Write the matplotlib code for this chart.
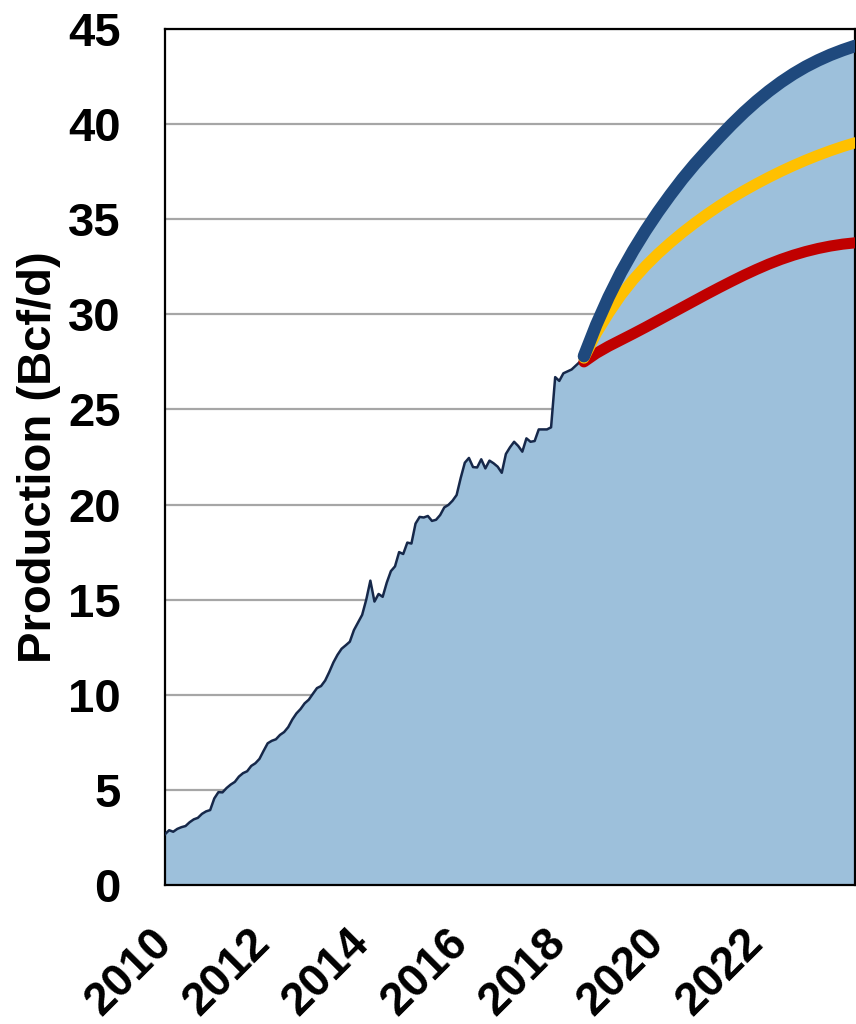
import numpy as np
import matplotlib.pyplot as plt

plt.rcParams['font.family'] = ['Liberation Sans', 'DejaVu Sans']
plt.rcParams['font.weight'] = 'bold'

# Monthly production, Jan 2010 .. Jul 2018 (Bcf/d)
hist_values = [2.67, 2.88, 2.80, 2.95, 3.04, 3.10, 3.30, 3.45, 3.53, 3.74, 3.87, 3.94,
               4.55, 4.88, 4.87, 5.10, 5.28, 5.42, 5.70, 5.88, 5.98, 6.26, 6.40, 6.63,
               7.05, 7.45, 7.58, 7.66, 7.89, 8.04, 8.30, 8.70, 9.02, 9.25, 9.55, 9.74,
               10.05, 10.35, 10.46, 10.75, 11.20, 11.70, 12.10, 12.42, 12.60, 12.79, 13.40, 13.80,
               14.20, 15.00, 16.00, 14.90, 15.30, 15.15, 15.90, 16.50, 16.75, 17.50, 17.40, 18.00,
               17.95, 19.00, 19.35, 19.32, 19.40, 19.14, 19.20, 19.45, 19.85, 19.98, 20.20, 20.50,
               21.40, 22.20, 22.45, 21.97, 21.95, 22.38, 21.90, 22.31, 22.17, 21.99, 21.67, 22.66,
               23.01, 23.30, 23.08, 22.78, 23.48, 23.30, 23.34, 23.95, 23.95, 23.95, 24.06, 26.70,
               26.50, 26.90, 27.00, 27.10, 27.30, 27.50, 27.70]
hist_years = 2010 + np.arange(len(hist_values)) / 12

# Forecast scenarios, quarterly
fc_years = [2018.5, 2018.75, 2019.0, 2019.25, 2019.5, 2019.75, 2020.0, 2020.25, 2020.5,
            2020.75, 2021.0, 2021.25, 2021.5, 2021.75, 2022.0, 2022.25, 2022.5, 2022.75,
            2023.0, 2023.25, 2023.5, 2023.75, 2024.0]
high = [27.8, 29.45, 30.9, 32.2, 33.35, 34.4, 35.37, 36.27, 37.12, 37.9, 38.62, 39.32,
        39.99, 40.62, 41.2, 41.73, 42.21, 42.64, 43.02, 43.35, 43.64, 43.89, 44.11]
mid = [27.7, 29.0, 30.05, 31.0, 31.82, 32.54, 33.18, 33.76, 34.3, 34.8, 35.27, 35.71,
       36.12, 36.5, 36.86, 37.2, 37.52, 37.82, 38.1, 38.36, 38.6, 38.82, 39.02]
low = [27.5, 27.95, 28.32, 28.65, 28.98, 29.32, 29.67, 30.02, 30.37, 30.72, 31.07, 31.41,
       31.74, 32.06, 32.36, 32.64, 32.89, 33.11, 33.3, 33.46, 33.59, 33.69, 33.76]

tick_years = [2010, 2012, 2014, 2016, 2018, 2020, 2022]
tick_labels = ['2010', '2012', '2014', '2016', '2018', '2020', '2022']

fig = plt.figure(figsize=(8.56, 10.24), dpi=100)
ax = fig.add_axes([165 / 856, 1 - 885 / 1024, 690 / 856, 856 / 1024])

# area under history + high case
fill_x = np.concatenate([hist_years, fc_years[1:]])
fill_y = np.concatenate([hist_values, high[1:]])
ax.fill_between(fill_x, 0, fill_y, color='#9DC0DB', lw=0, zorder=2)
ax.plot(hist_years, hist_values, color='#16284A', lw=1.8, zorder=3)

ax.plot(fc_years, low, color='#C00000', lw=8, solid_capstyle='round', zorder=4)
ax.plot(fc_years, mid, color='#FFC000', lw=8, solid_capstyle='round', zorder=5)
ax.plot(fc_years, high, color='#1F497D', lw=9, solid_capstyle='round', zorder=6)

ax.set_xlim(2010, 2024)
ax.set_ylim(0, 45)
ax.set_yticks(range(0, 46, 5))
ax.yaxis.grid(True, color='#A6A6A6', lw=1.6)
ax.set_axisbelow(True)
ax.tick_params(axis='y', length=0, pad=32, labelsize=34)

ax.set_xticks(tick_years)
ax.set_xticklabels(tick_labels, fontsize=33, fontweight='bold')
ax.tick_params(axis='x', length=0, pad=37)
plt.setp(ax.get_xticklabels(), rotation=45, ha='right', va='center', rotation_mode='anchor')

for sp in ax.spines.values():
    sp.set_linewidth(1.6)
    sp.set_color('black')

ax.text(-0.182, 0.5, 'Production (Bcf/d)', transform=ax.transAxes, rotation=90,
        ha='center', va='center', fontsize=34, fontweight='bold')

fig.savefig('out.png', dpi=100)
